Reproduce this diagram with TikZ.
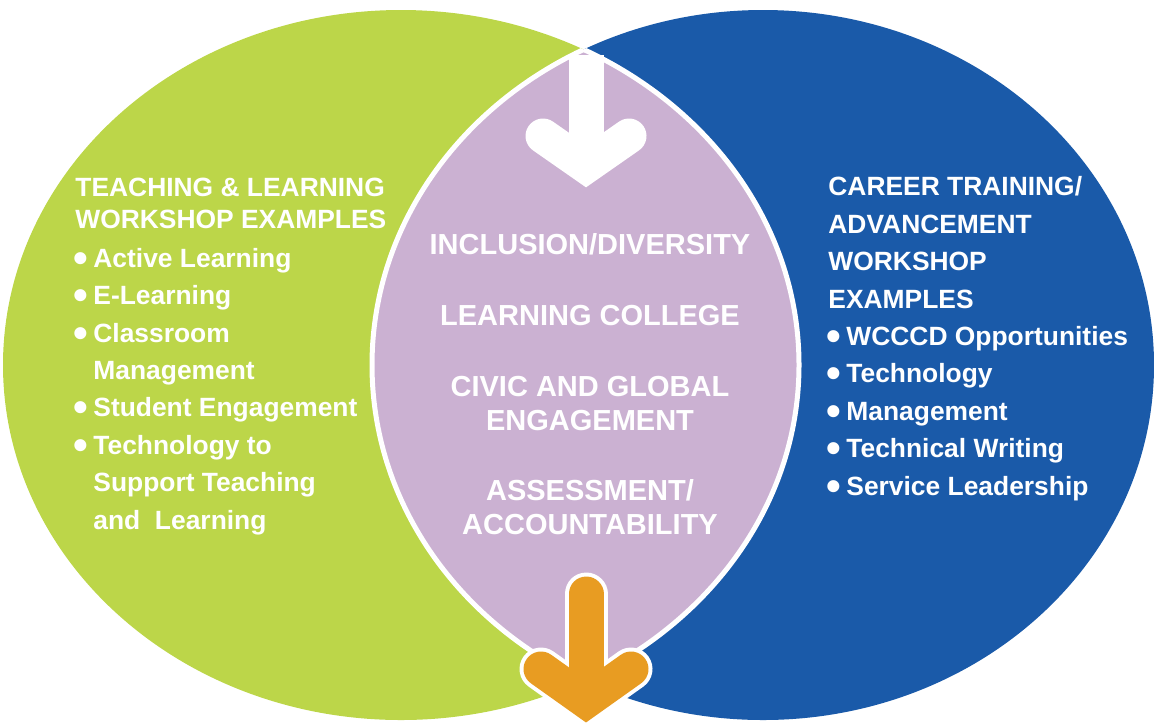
\documentclass[tikz,border=0pt]{standalone}
\usepackage{fontspec}
\setmainfont{Liberation Sans}

\definecolor{limegreen}{HTML}{BCD649}
\definecolor{deepblue}{HTML}{1A5AA9}
\definecolor{lilac}{HTML}{CBB1D2}
\definecolor{amber}{HTML}{E89C22}

\newcommand{\bul}{\makebox[9pt][l]{\hspace*{-1pt}\raisebox{-2.5pt}[0pt][0pt]{\fontsize{21}{21}\selectfont •}}}
\newcommand{\ind}{\hspace*{9pt}}

\tikzset{sidetext/.style={text=white, font=\bfseries\fontsize{13.2}{18.7}\selectfont,
                          align=left, anchor=base west, inner sep=0pt},
         midtext/.style={text=white, font=\bfseries\fontsize{14.5}{16.8}\selectfont,
                         align=center, anchor=base, inner sep=0pt},
         arrowline/.style={line width=17.5pt, line cap=round, line join=miter}}

\begin{document}
\begin{tikzpicture}%
            [x=0.5pt, y=-0.5pt]
            \useasboundingbox (0,0) rectangle (1154,724);

            % the two sets
            \fill [limegreen] (401,365) ellipse [x radius=398, y radius=355];
            \fill [deepblue] (763,365) ellipse [x radius=391, y radius=355];

            % overlap with white rim
            \begin{scope}
                \clip (401,365) ellipse [x radius=398, y radius=355];
                \fill [lilac] (763,365) ellipse [x radius=391, y radius=355];
                \draw [white, line width=2.5pt] (763,365) ellipse [x radius=391, y radius=355];
            \end{scope}
            \begin{scope}
                \clip (763,365) ellipse [x radius=391, y radius=355];
                \draw [white, line width=2.5pt] (401,365) ellipse [x radius=398, y radius=355];
            \end{scope}

            % white arrow at the top
            \draw [white, line width=17.5pt] (586,55) -- (586,160);
            \draw [white, arrowline] (543,136) -- (586,166) -- (629,136);

            % orange arrow at the bottom
            \draw [white, arrowline, line width=21.5pt] (586,594) -- (586,690);
            \draw [white, arrowline, line width=21.5pt] (541,669) -- (586,701) -- (631,669);
            \draw [amber, arrowline] (586,594) -- (586,690);
            \draw [amber, arrowline] (541,669) -- (586,701) -- (631,669);

            % left set (base = last line)
            \node [sidetext, font=\bfseries\fontsize{13.2}{16}\selectfont] (lhead) at (75,228)
                {TEACHING \& LEARNING\\WORKSHOP EXAMPLES};
            \node [sidetext] (llist) at (75,529)
                {\bul Active Learning\\\bul E-Learning\\\bul Classroom\\\ind Management\\
                 \bul Student Engagement\\\bul Technology to\\\ind Support Teaching\\\ind and~~Learning};

            % overlap
            \node [midtext] (incl) at (590,254) {INCLUSION/DIVERSITY};
            \node [midtext] (lcol) at (590,325) {LEARNING COLLEGE};
            \node [midtext] (civic) at (590,430) {CIVIC AND GLOBAL\\ENGAGEMENT};
            \node [midtext] (assess) at (590,534) {ASSESSMENT/\\ACCOUNTABILITY};

            % right set
            \node [sidetext] (rlist) at (828,495)
                {CAREER TRAINING/\\ADVANCEMENT\\WORKSHOP\\EXAMPLES\\
                 \bul WCCCD Opportunities\\\bul Technology\\\bul Management\\
                 \bul Technical Writing\\\bul Service Leadership};
        \end{tikzpicture}
\end{document}
